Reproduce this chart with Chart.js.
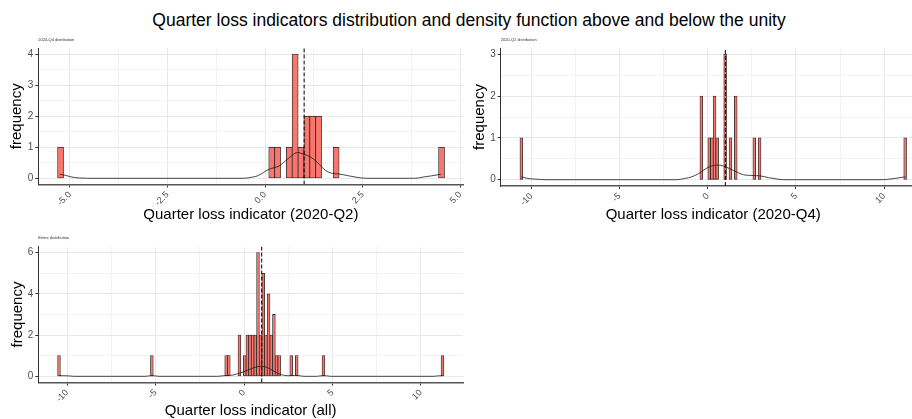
<!DOCTYPE html>
<html>
<head>
<meta charset="utf-8">
<script src="https://cdn.jsdelivr.net/npm/chart.js@4.4.1/dist/chart.umd.min.js"></script>
<style>
  html, body { margin: 0; padding: 0; background: #fff; overflow: hidden; width: 912px; height: 419px; position: relative; }
  canvas { position: absolute; }
  #title { position: absolute; left: 0; width: 938px; top: 9px; text-align: center; white-space: nowrap;
           font: 17.5px 'Liberation Sans', Arial, sans-serif; color: #000; line-height: 22px; }
</style>
</head>
<body>
<div id="title">Quarter loss indicators distribution and density function above and below the unity</div>
<canvas id="q2" width="470" height="230" style="left:0;top:0"></canvas>
<canvas id="q4" width="470" height="230" style="left:462px;top:0"></canvas>
<canvas id="all" width="470" height="200" style="left:0;top:225px"></canvas>
<script>
const FONT = "'Liberation Sans', Arial, sans-serif";

// ---- 2020-Q2: histogram bins (centres, width 0.15) and counts ----
const q2Bins   = [-5.24, 0.17, 0.32, 0.62, 0.77, 0.92, 1.07, 1.22, 1.37, 1.82, 4.52];
const q2Counts = [1, 1, 1, 1, 4, 1, 2, 2, 2, 1, 1];
// kernel density curve
const q2DensX = [-5.26, -5.13, -4.95, -4.75, -4.55, -0.55, -0.32, -0.19, 0.10, 0.36, 0.57, 0.83, 0.98, 1.17, 1.34, 1.55, 1.72, 1.89, 2.14, 2.36, 2.6, 3.85, 4.05, 4.27, 4.5];
const q2DensY = [0.13, 0.10, 0.04, 0.01, 0, 0, 0.04, 0.08, 0.29, 0.40, 0.61, 0.83, 0.78, 0.68, 0.51, 0.25, 0.16, 0.14, 0.08, 0.03, 0, 0, 0.04, 0.08, 0.13];
const q2XLabels = [-5, -2.5, 0, 2.5, 5];
const q2YLabels = [0, 1, 2, 3, 4];

// ---- 2020-Q4 ----
const q4Bins   = [-10.56, -0.36, 0.09, 0.24, 0.39, 0.54, 0.99, 1.29, 1.59, 2.64, 2.94, 11.19];
const q4Counts = [1, 2, 1, 1, 2, 1, 3, 1, 2, 1, 1, 1];
const q4DensX = [-10.55, -10.3, -10.0, -9.6, -9.2, -1.8, -1.3, -0.9, -0.5, -0.23, 0.15, 0.62, 1.0, 1.47, 2.03, 2.6, 3.0, 3.45, 3.9, 4.3, 9.7, 10.2, 10.6, 10.9, 11.2];
const q4DensY = [0.07, 0.04, 0.02, 0.01, 0, 0, 0.03, 0.07, 0.15, 0.23, 0.32, 0.35, 0.31, 0.22, 0.12, 0.10, 0.09, 0.05, 0.02, 0, 0, 0.01, 0.03, 0.05, 0.07];
const q4XLabels = [-10, -5, 0, 5, 10];
const q4YLabels = [0, 1, 2, 3];

// ---- all quarters ----
const allBins   = [-10.46, -5.21, -1.01, -0.86, -0.26, 0.04, 0.19, 0.34, 0.49, 0.64, 0.79, 0.94, 1.09, 1.24, 1.39, 1.54, 1.69, 1.84, 1.99, 2.67, 2.98, 4.49, 11.22];
const allCounts = [1, 1, 1, 1, 2, 1, 2, 2, 2, 2, 6, 2, 5, 2, 4, 2, 3, 1, 1, 1, 1, 1, 1];
const allDensX = [-10.46, -10.2, -9.9, -9.6, -5.6, -5.4, -5.21, -5.0, -4.8, -1.5, -1.25, -1.0, -0.75, -0.58, -0.3, 0.0, 0.3, 0.55, 0.93, 1.2, 1.4, 1.65, 1.87, 2.1, 2.3, 2.5, 2.7, 2.85, 3.0, 3.2, 3.4, 4.1, 4.3, 4.5, 4.7, 4.9, 10.7, 10.95, 11.22];
const allDensY = [0.03, 0.03, 0.02, 0, 0, 0.02, 0.03, 0.02, 0, 0, 0.02, 0.04, 0.05, 0.07, 0.14, 0.23, 0.33, 0.42, 0.49, 0.46, 0.39, 0.27, 0.16, 0.08, 0.04, 0.03, 0.04, 0.04, 0.04, 0.02, 0, 0, 0.02, 0.03, 0.02, 0, 0, 0.02, 0.03];
const allXLabels = [-10, -5, 0, 5, 10];
const allYLabels = [0, 2, 4, 6];

const UNITY = 1;

function isIn(v, arr) { return arr.some(a => Math.abs(a - v) < 1e-6); }

function captionPlugin(text) {
  return {
    id: 'caption',
    afterDraw(chart) {
      const { ctx, chartArea } = chart;
      ctx.save();
      ctx.font = '4px ' + FONT;
      ctx.fillStyle = '#333';
      ctx.textBaseline = 'middle';
      ctx.fillText(text, chartArea.left, chartArea.top - 8.5);
      ctx.restore();
    }
  };
}

function panel(id, o) {
  const majorX = c => c.tick && isIn(c.tick.value, o.xLabels);
  const majorY = c => c.tick && isIn(c.tick.value, o.yLabels);
  return new Chart(document.getElementById(id), {
    type: 'bar',
    data: {
      datasets: [
        { type: 'line', data: [{ x: UNITY, y: o.yMin }, { x: UNITY, y: o.yMax }],
          borderColor: '#000', borderWidth: 1, borderDash: [4, 2], pointRadius: 0, order: 0 },
        { type: 'line', data: o.densX.map((x, i) => ({ x, y: o.densY[i] })),
          borderColor: '#1a1a1a', borderWidth: 0.8, pointRadius: 0, cubicInterpolationMode: 'monotone', order: 1 },
        { type: 'bar', data: o.bins.map((x, i) => ({ x, y: o.counts[i] })),
          backgroundColor: '#F8766D', borderColor: '#2a2a2a', borderWidth: 0.8, borderSkipped: false,
          inflateAmount: 0.4, barPercentage: 1, categoryPercentage: 1, order: 2 }
      ]
    },
    options: {
      responsive: false, animation: false, devicePixelRatio: 1,
      layout: { padding: { left: 0, top: o.padTop, right: o.padRight, bottom: 0 } },
      plugins: { legend: { display: false }, tooltip: { enabled: false } },
      scales: {
        x: {
          type: 'linear', min: o.xMin, max: o.xMax, offset: false,
          afterFit: s => { s.height = o.xAxisH; },
          ticks: {
            stepSize: o.xStep, includeBounds: false, autoSkip: false, minRotation: 45, maxRotation: 45,
            padding: 2, color: '#4d4d4d', font: { family: FONT, size: 9 },
            callback: v => isIn(v, o.xLabels) ? o.xFmt(v) : ''
          },
          grid: {
            offset: false, lineWidth: 1, tickLength: 3,
            color: c => majorX(c) ? '#e8e8e8' : '#f3f3f3',
            tickColor: c => majorX(c) ? '#333' : 'rgba(0,0,0,0)'
          },
          border: { display: true, color: '#555', width: 1.5 },
          title: { display: true, text: o.xTitle, color: '#000', font: { family: FONT, size: 15 },
                   padding: { top: 0, bottom: o.xTitlePad } }
        },
        y: {
          type: 'linear', min: o.yMin, max: o.yMax,
          afterFit: s => { s.width = o.yAxisW; },
          ticks: {
            stepSize: o.yStep, includeBounds: false, autoSkip: false, padding: 2,
            color: '#4d4d4d', font: { family: FONT, size: 10 },
            callback: v => isIn(v, o.yLabels) ? String(Math.round(v)) : ''
          },
          grid: {
            lineWidth: 1, tickLength: 3,
            color: c => majorY(c) ? '#e8e8e8' : '#f3f3f3',
            tickColor: c => majorY(c) ? '#333' : 'rgba(0,0,0,0)'
          },
          border: { display: true, color: '#333', width: 1 },
          title: { display: true, text: 'frequency', color: '#000', font: { family: FONT, size: 15 },
                   padding: { top: o.yTitlePad, bottom: 0 } }
        }
      }
    },
    plugins: [captionPlugin(o.caption)]
  });
}

panel('q2', {
  bins: q2Bins, counts: q2Counts, densX: q2DensX, densY: q2DensY,
  xLabels: q2XLabels, yLabels: q2YLabels, xFmt: v => v.toFixed(1),
  xMin: -5.81, xMax: 5.08, xStep: 1.25, yMin: -0.2, yMax: 4.2, yStep: 0.5,
  xTitle: 'Quarter loss indicator (2020-Q2)', caption: '2020-Q4 distribution',
  padTop: 48, padRight: 6.6, xAxisH: 45.5, yAxisW: 38.3, xTitlePad: 6, yTitlePad: 7.7
});

panel('q4', {
  bins: q4Bins, counts: q4Counts, densX: q4DensX, densY: q4DensY,
  xLabels: q4XLabels, yLabels: q4YLabels, xFmt: v => String(v),
  xMin: -11.73, xMax: 12.36, xStep: 2.5, yMin: -0.15, yMax: 3.15, yStep: 0.5,
  xTitle: 'Quarter loss indicator (2020-Q4)', caption: '2020-Q2 distribution',
  padTop: 48, padRight: 6.2, xAxisH: 44, yAxisW: 38.7, xTitlePad: 6, yTitlePad: 9
});

panel('all', {
  bins: allBins, counts: allCounts, densX: allDensX, densY: allDensY,
  xLabels: allXLabels, yLabels: allYLabels, xFmt: v => String(v),
  xMin: -11.63, xMax: 12.38, xStep: 2.5, yMin: -0.3, yMax: 6.3, yStep: 1,
  xTitle: 'Quarter loss indicator (all)', caption: 'Entire distribution',
  padTop: 21.5, padRight: 7, xAxisH: 42.5, yAxisW: 38.3, xTitlePad: 5, yTitlePad: 9
});
</script>
</body>
</html>
